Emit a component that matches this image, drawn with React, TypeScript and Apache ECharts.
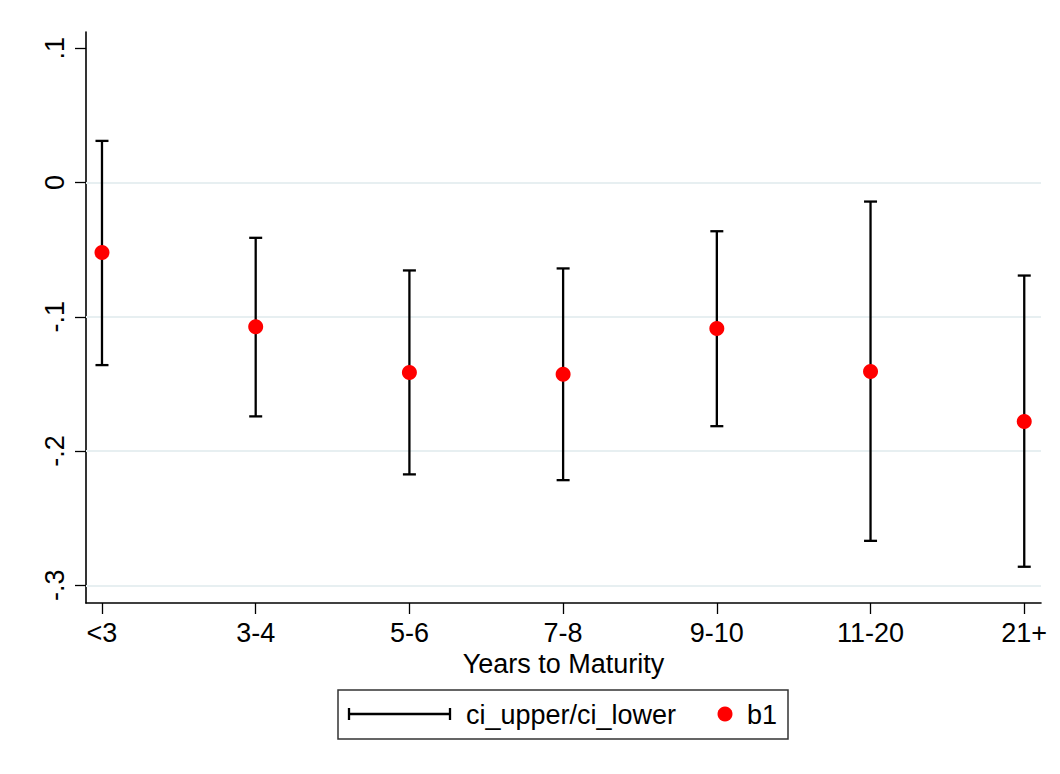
import React, { useEffect, useRef } from "react";
import * as echarts from "echarts";

const categories = ["<3", "3-4", "5-6", "7-8", "9-10", "11-20", "21+"];
const b1 = [-0.0521, -0.1075, -0.1415, -0.1428, -0.1087, -0.1407, -0.178];
const ciUpper = [0.031, -0.0412, -0.0655, -0.064, -0.0363, -0.0142, -0.0693];
const ciLower = [-0.136, -0.1742, -0.2174, -0.2217, -0.1815, -0.2669, -0.2862];
const yTicks = [0.1, 0, -0.1, -0.2, -0.3];
const gridValues = [0, -0.1, -0.2, -0.3];
const xTicks = [0, 1, 2, 3, 4, 5, 6];

const FONT = "'Liberation Sans', Arial, Helvetica, sans-serif";
const FS = 27;

function fmtY(v: number): string {
  const r = Math.round(v * 10) / 10;
  if (r === 0) return "0";
  return r.toString().replace("0.", ".");
}

export default function App() {
  const ref = useRef<HTMLDivElement>(null);
  useEffect(() => {
    if (!ref.current) return;
    const chart = echarts.init(ref.current, undefined, { renderer: "svg" });
    const errData = categories.map((_, i) => [i, ciLower[i], ciUpper[i]]);
    const pts = categories.map((_, i) => [i, b1[i]]);
    chart.setOption({
      animation: false,
      backgroundColor: "#ffffff",
      grid: { left: 86, top: 32, width: 955, height: 571, containLabel: false },
      xAxis: {
        type: "value",
        min: -0.104,
        max: 6.109,
        splitLine: { show: false },
        axisLine: { show: true, onZero: false, lineStyle: { color: "#000", width: 1.6 } },
        axisTick: { show: true, length: 11, customValues: xTicks, lineStyle: { color: "#000", width: 1.3 } },
        axisLabel: {
          customValues: xTicks,
          formatter: (v: number) => categories[Math.round(v)] ?? "",
          fontSize: FS,
          fontFamily: FONT,
          color: "#000",
          margin: 16,
        },
        name: "Years to Maturity",
        nameLocation: "middle",
        nameGap: 42,
        nameTextStyle: { fontSize: FS, fontFamily: FONT, color: "#000" },
      },
      yAxis: {
        type: "value",
        min: -0.3132,
        max: 0.1121,
        splitLine: { show: false },
        axisLine: { show: true, onZero: false, lineStyle: { color: "#000", width: 1.6 } },
        axisTick: { show: true, length: 11, customValues: yTicks, lineStyle: { color: "#000", width: 1.3 } },
        axisLabel: {
          customValues: yTicks,
          formatter: (v: number) => fmtY(v),
          rotate: 90,
          fontSize: FS,
          fontFamily: FONT,
          color: "#000",
          margin: 18,
        },
      },
      series: [
        {
          type: "custom",
          name: "ci_upper/ci_lower",
          data: errData,
          z: 2,
          renderItem: (params: any, api: any) => {
            const x = api.value(0);
            const lo = api.coord([x, api.value(1)]);
            const hi = api.coord([x, api.value(2)]);
            const hw = 6.5;
            const style = { stroke: "#000", lineWidth: 2.3, fill: "none" };
            return {
              type: "group",
              children: [
                { type: "line", shape: { x1: hi[0], y1: hi[1], x2: lo[0], y2: lo[1] }, style },
                { type: "line", shape: { x1: hi[0] - hw, y1: hi[1], x2: hi[0] + hw, y2: hi[1] }, style },
                { type: "line", shape: { x1: lo[0] - hw, y1: lo[1], x2: lo[0] + hw, y2: lo[1] }, style },
              ],
            };
          },
        },
        {
          type: "scatter",
          name: "b1",
          data: pts,
          symbol: "circle",
          symbolSize: 15,
          itemStyle: { color: "#ff0000", opacity: 1 },
          z: 5,
          markLine: {
            silent: true,
            symbol: ["none", "none"],
            label: { show: false },
            lineStyle: { color: "#e7eff1", width: 2, type: "solid", opacity: 1 },
            z: 1,
            data: gridValues.map((v) => ({ yAxis: v })),
          },
        },
      ],
      graphic: [
        {
          type: "rect",
          shape: { x: 338, y: 690, width: 450, height: 49 },
          style: { fill: "none", stroke: "#333", lineWidth: 1.5 },
        },
        { type: "line", shape: { x1: 349, y1: 714, x2: 450, y2: 714 }, style: { stroke: "#000", lineWidth: 2.3 } },
        { type: "line", shape: { x1: 349, y1: 708, x2: 349, y2: 720 }, style: { stroke: "#000", lineWidth: 2.3 } },
        { type: "line", shape: { x1: 450, y1: 708, x2: 450, y2: 720 }, style: { stroke: "#000", lineWidth: 2.3 } },
        {
          type: "text",
          x: 466,
          y: 715,
          style: { text: "ci_upper/ci_lower", fontSize: FS, fontFamily: FONT, fill: "#000", verticalAlign: "middle", align: "left" },
        },
        { type: "circle", shape: { cx: 725, cy: 714, r: 7.5 }, style: { fill: "#ff0000" } },
        {
          type: "text",
          x: 747,
          y: 715,
          style: { text: "b1", fontSize: FS, fontFamily: FONT, fill: "#000", verticalAlign: "middle", align: "left" },
        },
      ],
    });
    return () => chart.dispose();
  }, []);
  return (
    <div
      ref={ref}
      style={{ position: "fixed", left: 0, top: 0, width: 1060, height: 774, background: "#fff" }}
    />
  );
}
